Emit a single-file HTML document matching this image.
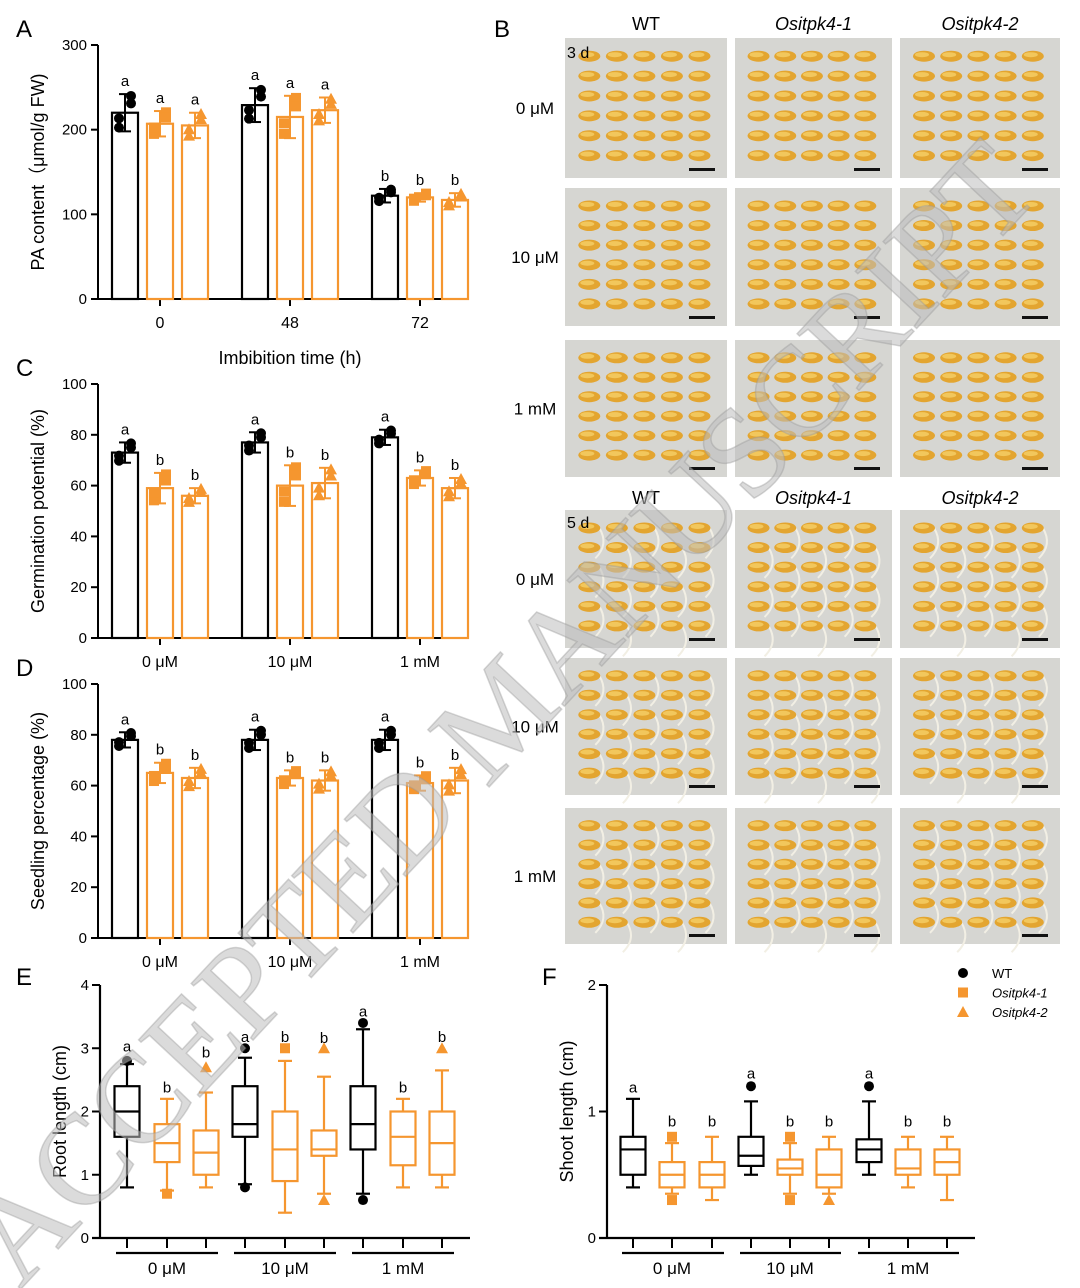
<!DOCTYPE html>
<html><head><meta charset="utf-8"><style>
html,body{margin:0;padding:0;background:#fff}
svg{display:block;font-family:"Liberation Sans",Arial,sans-serif}
</style></head><body>
<svg id="fig" width="1080" height="1288" viewBox="0 0 1080 1288" xmlns="http://www.w3.org/2000/svg">
<g id="panels"></g>
<g id="photos"></g>
<text x="0" y="0" transform="translate(20,1290) rotate(-47)" font-family="Liberation Serif,serif" font-size="128" fill="#bdbdbd" fill-opacity="0.55" stroke="#999" stroke-opacity="0.4" stroke-width="1.5" textLength="1500">ACCEPTED MANUSCRIPT</text>
</svg>
<script>
// ---- Panel A data ----
const aCats=["0","48","72"];
const aWT=[220,229,122], aK1=[207,215,120], aK2=[205,223,117];
const aSdWT=[22,20,8], aSdK1=[15,25,5], aSdK2=[15,15,8];
const aLetters=[["a","a","a"],["a","a","a"],["b","b","b"]];
const aTicks=[0,100,200,300];
// ---- Panel C data ----
const cCats=["0 μM","10 μM","1 mM"];
const cWT=[73,77,79], cK1=[59,60,63], cK2=[56,61,59];
const cSdWT=[4,4,3], cSdK1=[6,8,3], cSdK2=[3,6,4];
const cLetters=[["a","b","b"],["a","b","b"],["a","b","b"]];
// ---- Panel D data ----
const dWT=[78,78,78], dK1=[65,63,61], dK2=[63,62,62];
const dSdWT=[3,4,4], dSdK1=[4,3,3], dSdK2=[4,4,5];
const dLetters=[["a","b","b"],["a","b","b"],["a","b","b"]];
const pctTicks=[0,20,40,60,80,100];
// ---- Panel E data: [low whisker, q1, median, q3, high whisker] ----
const eBoxes=[[0.8,1.6,2.0,2.4,2.75],[0.75,1.2,1.5,1.8,2.2],[0.8,1.0,1.35,1.7,2.3],
 [0.85,1.6,1.8,2.4,2.85],[0.4,0.9,1.4,2.0,2.8],[0.7,1.3,1.4,1.7,2.55],
 [0.7,1.4,1.8,2.4,3.3],[0.8,1.15,1.6,2.0,2.2],[0.8,1.0,1.5,2.0,2.65]];
const eOutliers=[[2.8],[0.7],[2.7],[3.0,0.8],[3.0],[3.0,0.6],[3.4,0.6],[],[3.0]];
const eLetters=["a","b","b","a","b","b","a","b","b"];
const eLetterY=[2.95,2.3,2.85,3.1,3.1,3.08,3.5,2.3,3.1];
const eTicks=[0,1,2,3,4];
// ---- Panel F data ----
const fBoxes=[[0.4,0.5,0.7,0.8,1.1],[0.35,0.4,0.5,0.6,0.75],[0.3,0.4,0.5,0.6,0.8],
 [0.5,0.57,0.65,0.8,1.08],[0.35,0.5,0.55,0.62,0.75],[0.35,0.4,0.5,0.7,0.8],
 [0.5,0.6,0.7,0.78,1.08],[0.4,0.5,0.55,0.7,0.8],[0.3,0.5,0.6,0.7,0.8]];
const fOutliers=[[],[0.8,0.3],[],[1.2],[0.8,0.3],[0.3],[1.2],[],[]];
const fLetters=["a","b","b","a","b","b","a","b","b"];
const fLetterY=[1.15,0.88,0.88,1.26,0.88,0.88,1.26,0.88,0.88];
const fTicks=[0,1,2];

const NS="http://www.w3.org/2000/svg";
const OR="#f5962f";
const root=document.getElementById('panels');
function mk(tag,attrs,parent,txt){const e=document.createElementNS(NS,tag);for(const k in attrs)e.setAttribute(k,attrs[k]);if(txt!==undefined)e.textContent=txt;(parent||root).appendChild(e);return e;}
function marker(g,kind,x,y,col){
  if(kind===0){const m=mk('circle',{cx:x,cy:y,r:5,fill:col},g);}
  else if(kind===1){const m=mk('rect',{x:x-5,y:y-5,width:10,height:10,fill:col},g);}
  else {const m=mk('polygon',{points:`${x},${y-6} ${x-6},${y+5} ${x+6},${y+5}`,fill:col},g);}
}
function barPanel(name,label,top,bottom,max,ticks,series,sds,letters,cats,yTitle,catY){
  const g=mk('g',{});
  const y=v=>bottom-v/max*(bottom-top);
  const x0=98,xEnd=460,centers=[160,290,420],off=[-35,0,35];
  mk('text',{x:16,y:top-8,'font-size':24},g,label);
  mk('line',{x1:x0,y1:top,x2:x0,y2:bottom,stroke:'#000','stroke-width':2},g);
  mk('line',{x1:x0,y1:bottom,x2:xEnd,y2:bottom,stroke:'#000','stroke-width':2},g);
  ticks.forEach(t=>{mk('line',{x1:x0-7,y1:y(t),x2:x0,y2:y(t),stroke:'#000','stroke-width':2},g);
    const tl=mk('text',{x:x0-11,y:y(t)+5,'font-size':15,'text-anchor':'end'},g,t);});
  cats.forEach((c,i)=>{mk('line',{x1:centers[i],y1:bottom,x2:centers[i],y2:bottom+7,stroke:'#000','stroke-width':2},g);
    const cl=mk('text',{x:centers[i],y:catY,'font-size':16,'text-anchor':'middle'},g,c);});
  const yt=mk('text',{x:0,y:0,'font-size':18,'text-anchor':'middle',transform:`translate(44,${(top+bottom)/2}) rotate(-90)`},g,yTitle);
  
  series.forEach((s,si)=>{
    const col=si===0?'#000':OR;
    s.forEach((v,i)=>{
      const cx=centers[i]+off[si],w=26;
      const b=mk('rect',{x:cx-w/2,y:y(v),width:w,height:bottom-y(v),fill:'none',stroke:col,'stroke-width':2.2},g);
      
      const sd=sds[si][i];
      mk('line',{x1:cx,y1:y(v-sd),x2:cx,y2:y(v+sd),stroke:col,'stroke-width':2},g);
      mk('line',{x1:cx-6,y1:y(v+sd),x2:cx+6,y2:y(v+sd),stroke:col,'stroke-width':2},g);
      mk('line',{x1:cx-6,y1:y(v-sd),x2:cx+6,y2:y(v-sd),stroke:col,'stroke-width':2},g);
      [-0.8,0.9,-0.3,0.5].forEach((d,k)=>marker(g,si,cx+(k%2?6:-6),y(v+d*sd),col));
      const lt=mk('text',{x:cx,y:y(v+sd)-8,'font-size':15,'text-anchor':'middle'},g,letters[i][si]);
      
    });
  });
  return g;
}
const ga=barPanel('panel-a-pa-content','A',45,299,300,aTicks,[aWT,aK1,aK2],[aSdWT,aSdK1,aSdK2],aLetters,aCats,'PA content（μmol/g FW)',328);
const xt=mk('text',{x:290,y:364,'font-size':18,'text-anchor':'middle'},ga,'Imbibition time (h)');

barPanel('panel-c-germination','C',384,638,100,pctTicks,[cWT,cK1,cK2],[cSdWT,cSdK1,cSdK2],cLetters,cCats,'Germination potential (%)',667);
barPanel('panel-d-seedling','D',684,938,100,pctTicks,[dWT,dK1,dK2],[dSdWT,dSdK1,dSdK2],dLetters,cCats,'Seedling percentage (%)',967);

function boxPanel(name,label,x0,xEnd,centers,max,ticks,boxes,outs,letters,letterY,yTitle,labelX){
  const g=mk('g',{});
  const top=985,bottom=1238;const y=v=>bottom-v/max*(bottom-top);
  mk('text',{x:labelX,y:985,'font-size':24},g,label);
  mk('line',{x1:x0,y1:top,x2:x0,y2:bottom,stroke:'#000','stroke-width':2.2},g);
  mk('line',{x1:x0-8,y1:bottom,x2:xEnd,y2:bottom,stroke:'#000','stroke-width':2.2},g);
  ticks.forEach(t=>{mk('line',{x1:x0-8,y1:y(t),x2:x0,y2:y(t),stroke:'#000','stroke-width':2},g);
    const tl=mk('text',{x:x0-11,y:y(t)+5,'font-size':15,'text-anchor':'end'},g,t);});
  const yt=mk('text',{x:0,y:0,'font-size':18,'text-anchor':'middle',transform:`translate(${x0-34},${(top+bottom)/2}) rotate(-90)`},g,yTitle);
  
  centers.forEach(c=>mk('line',{x1:c,y1:bottom,x2:c,y2:bottom+10,stroke:'#000','stroke-width':2},g));
  cCats.forEach((c,i)=>{
    mk('line',{x1:centers[i*3]-11,y1:1253,x2:centers[i*3+2]+12,y2:1253,stroke:'#000','stroke-width':2.2},g);
    const cl=mk('text',{x:centers[i*3+1],y:1274,'font-size':17,'text-anchor':'middle'},g,c);
    
  });
  boxes.forEach((b,i)=>{
    const si=i%3,col=si===0?'#000':OR,cx=centers[i],w=25;
    mk('line',{x1:cx,y1:y(b[0]),x2:cx,y2:y(b[4]),stroke:col,'stroke-width':2.2},g);
    mk('line',{x1:cx-7,y1:y(b[0]),x2:cx+7,y2:y(b[0]),stroke:col,'stroke-width':2.2},g);
    mk('line',{x1:cx-7,y1:y(b[4]),x2:cx+7,y2:y(b[4]),stroke:col,'stroke-width':2.2},g);
    const r=mk('rect',{x:cx-w/2,y:y(b[3]),width:w,height:y(b[1])-y(b[3]),fill:'#fff',stroke:col,'stroke-width':2.2},g);
    
    mk('line',{x1:cx-w/2,y1:y(b[2]),x2:cx+w/2,y2:y(b[2]),stroke:col,'stroke-width':2.2},g);
    outs[i].forEach(o=>marker(g,si,cx,y(o),col));
    const lt=mk('text',{x:cx,y:y(letterY[i]),'font-size':15,'text-anchor':'middle'},g,letters[i]);
    
  });
}
boxPanel('panel-e-root-length','E',100,470,[127,167,206,245,285,324,363,403,442],4,eTicks,eBoxes,eOutliers,eLetters,eLetterY,'Root length (cm)',16);
boxPanel('panel-f-shoot-length','F',607,975,[633,672,712,751,790,829,869,908,947],2,fTicks,fBoxes,fOutliers,fLetters,fLetterY,'Shoot length (cm)',542);

// legend
const lg=mk('g',{});
[['WT',''],['Ositpk4-1','italic'],['Ositpk4-2','italic']].forEach((l,i)=>{
  const ly=973+i*19.5;marker(lg,i,963,ly,i?OR:'#000');
  const t=mk('text',{x:992,y:ly+5,'font-size':13,'font-style':l[1]||'normal'},lg,l[0]);
  
});

// ---- Panel B photos (decorative) ----
const pg=document.getElementById('photos');

mk('text',{x:494,y:37,'font-size':24},pg,'B');
const colsX=[[565,727],[735,892],[900,1060]];
const rowsY=[[38,178],[188,326],[340,477],[510,648],[658,795],[808,944]];
const rowLab=['0 μM','10 μM','1 mM','0 μM','10 μM','1 mM'];
const heads=['WT','Ositpk4-1','Ositpk4-2'];
[30,504].forEach(hy=>heads.forEach((h,i)=>{const t=mk('text',{x:(colsX[i][0]+colsX[i][1])/2,y:hy,'font-size':18,'text-anchor':'middle','font-style':i?'italic':'normal'},pg,h);}));
rowsY.forEach((ry,r)=>{
  const t=mk('text',{x:535,y:(ry[0]+ry[1])/2+6,'font-size':17,'text-anchor':'middle'},pg,rowLab[r]);
  
  colsX.forEach((cx,c)=>{
    const p=mk('rect',{x:cx[0],y:ry[0],width:cx[1]-cx[0],height:ry[1]-ry[0],fill:'#d6d6d2'},pg);
    
    const w=cx[1]-cx[0],h=ry[1]-ry[0];
    for(let i=0;i<6;i++)for(let j=0;j<5;j++){
      const ex=cx[0]+w*(0.15+j*0.17),ey=ry[0]+h*(0.13+i*0.142);
      if(r>=3&&(i+j+c)%2===0)mk('path',{d:`M${ex+10},${ey} q10,${h*0.12} ${-4},${h*0.22}`,stroke:'#f2efe4','stroke-width':2,fill:'none'},pg);
      mk('ellipse',{cx:ex,cy:ey,rx:11,ry:5.5,fill:'#e3a530'},pg);
      mk('ellipse',{cx:ex-2,cy:ey-1.5,rx:7,ry:2.5,fill:'#f2c75c'},pg);
    }
    mk('rect',{x:cx[1]-38,y:ry[1]-10,width:26,height:3,fill:'#111'},pg);
  });
});
mk('text',{x:567,y:58,'font-size':16},pg,'3 d');
mk('text',{x:567,y:528,'font-size':16},pg,'5 d');
</script>
</body></html>
